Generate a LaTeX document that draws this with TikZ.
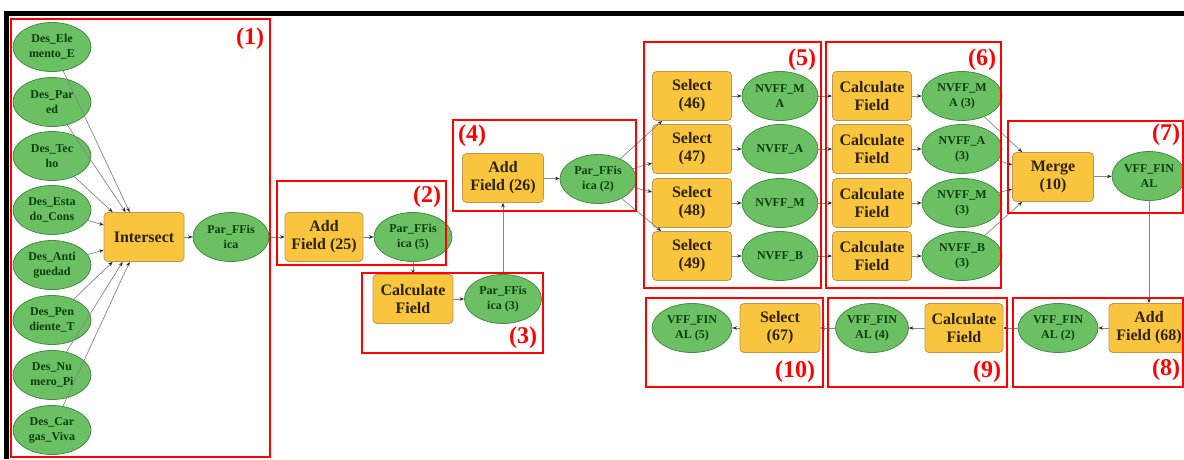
\documentclass[tikz,border=0pt]{standalone}
\usepackage{fontspec}
\setmainfont{Liberation Serif}
\usetikzlibrary{shapes.geometric,arrows.meta,calc}

\definecolor{toolfill}{RGB}{250,197,62}
\definecolor{tooledge}{RGB}{190,150,80}
\definecolor{tooltext}{RGB}{45,35,12}
\definecolor{datafill}{RGB}{106,192,98}
\definecolor{dataedge}{RGB}{72,138,72}
\definecolor{datatext}{RGB}{12,62,12}
\definecolor{flow}{RGB}{135,135,135}
\definecolor{grp}{RGB}{255,0,0}

\begin{document}
\begin{tikzpicture}[x=1pt,y=-1pt,
  tool/.style={draw=tooledge, fill=toolfill, rounded corners=4pt, line width=0.8pt,
    minimum width=80pt, minimum height=49pt, inner sep=0pt, align=center,
    text=tooltext, font=\bfseries\fontsize{16}{18}\selectfont},
  data/.style={ellipse, draw=dataedge, fill=datafill, line width=0.8pt,
    minimum width=78pt, minimum height=49pt, inner sep=0pt, align=center,
    text=datatext, font=\bfseries\fontsize{12}{15}\selectfont},
  link/.style={draw=flow, line width=0.7pt,
    -{Stealth[length=4.5pt,width=3.5pt,color=black!85]}},
  group/.style={draw=grp, line width=2pt},
  grouplabel/.style={text=grp, inner sep=0pt, font=\bfseries\fontsize{24}{24}\selectfont}]

\useasboundingbox (0,0) rectangle (1184,459);
\fill[white] (0,0) rectangle (1184,459);

% outer frame (top and left edges)
\draw[line width=5pt, black] (6,459) -- (6,13.5) -- (1184,13.5);

% ---------- group (1): inputs to Intersect ----------
\node[data] (d1) at (52,47)  {Des\_Ele\\mento\_E};
\node[data] (d2) at (52,102) {Des\_Par\\ed};
\node[data] (d3) at (52,156) {Des\_Tec\\ho};
\node[data] (d4) at (52,210) {Des\_Esta\\do\_Cons};
\node[data] (d5) at (52,265) {Des\_Anti\\guedad};
\node[data] (d6) at (52,320) {Des\_Pen\\diente\_T};
\node[data] (d7) at (52,375) {Des\_Nu\\mero\_Pi};
\node[data] (d8) at (52,430) {Des\_Car\\gas\_Viva};

\node[tool] (isect) at (144,237) {Intersect};
\node[data, minimum width=76pt] (pff) at (231,237) {Par\_FFis\\ica};

\draw[link] (d1) -- ($(isect.north west)+(26,0)$);
\draw[link] (d2) -- ($(isect.north west)+(22,0)$);
\draw[link] (d3) -- ($(isect.north west)+(9,0)$);
\draw[link] (d4) -- ($(isect.west)+(0,-12)$);
\draw[link] (d5) -- ($(isect.west)+(0,13)$);
\draw[link] (d6) -- ($(isect.south west)+(9,0)$);
\draw[link] (d7) -- ($(isect.south west)+(19,0)$);
\draw[link] (d8) -- ($(isect.south west)+(26,0)$);
\draw[link] (isect) -- (pff);

% ---------- groups (2), (3), (4) ----------
\node[tool, minimum width=78pt] (af25) at (324,237) {Add\\Field (25)};
\node[data] (p5) at (413,237) {Par\_FFis\\ica (5)};
\node[tool] (cf3) at (413,299) {Calculate\\Field};
\node[data, minimum width=77pt] (p3) at (503,299) {Par\_FFis\\ica (3)};
\node[tool, minimum width=81pt] (af26) at (503,178) {Add\\Field (26)};
\node[data, minimum width=76pt] (p2) at (598,179) {Par\_FFis\\ica (2)};

\draw[link] (pff) -- (af25);
\draw[link] (af25) -- (p5);
\draw[link] (p5) -- (cf3);
\draw[link] (cf3) -- (p3);
\draw[link] (p3) -- (af26);
\draw[link] (af26) -- (p2);

% ---------- groups (5) and (6): four parallel chains ----------
\node[tool, minimum width=79pt] (s46) at (692,96)  {Select\\(46)};
\node[tool, minimum width=79pt] (s47) at (692,149) {Select\\(47)};
\node[tool, minimum width=79pt] (s48) at (692,203) {Select\\(48)};
\node[tool, minimum width=79pt] (s49) at (692,256) {Select\\(49)};

\node[data, minimum width=76pt] (n1) at (780,96)  {NVFF\_M\\A};
\node[data, minimum width=76pt] (n2) at (780,149) {NVFF\_A};
\node[data, minimum width=76pt] (n3) at (780,203) {NVFF\_M};
\node[data, minimum width=76pt] (n4) at (780,256) {NVFF\_B};

\node[tool, minimum width=79pt] (c1) at (872,96)  {Calculate\\Field};
\node[tool, minimum width=79pt] (c2) at (872,149) {Calculate\\Field};
\node[tool, minimum width=79pt] (c3) at (872,203) {Calculate\\Field};
\node[tool, minimum width=79pt] (c4) at (872,256) {Calculate\\Field};

\node[data, minimum width=80pt] (m1) at (962,96)  {NVFF\_M\\A (3)};
\node[data, minimum width=80pt] (m2) at (962,149) {NVFF\_A\\(3)};
\node[data, minimum width=80pt] (m3) at (962,203) {NVFF\_M\\(3)};
\node[data, minimum width=80pt] (m4) at (962,256) {NVFF\_B\\(3)};

\draw[link] (p2) -- ($(s46.south west)+(10,0)$);
\draw[link] (p2) -- ($(s47.west)+(0,14)$);
\draw[link] (p2) -- ($(s48.west)+(0,-11)$);
\draw[link] (p2) -- ($(s49.north west)+(9,0)$);

\foreach \i/\s in {1/s46,2/s47,3/s48,4/s49}{
  \draw[link] (\s) -- (n\i);
  \draw[link] (n\i) -- (c\i);
  \draw[link] (c\i) -- (m\i);
}

% ---------- group (7): Merge ----------
\node[tool, minimum width=81pt] (merge) at (1053,177) {Merge\\(10)};
\node[data, minimum width=74pt] (vff) at (1149,176) {VFF\_FIN\\AL};

\draw[link] (m1) -- ($(merge.north west)+(10,0)$);
\draw[link] (m2) -- ($(merge.west)+(0,-12)$);
\draw[link] (m3) -- ($(merge.west)+(0,12)$);
\draw[link] (m4) -- ($(merge.south west)+(10,0)$);
\draw[link] (merge) -- (vff);

% ---------- groups (8), (9), (10): bottom chain ----------
\node[tool] (af68) at (1149,328) {Add\\Field (68)};
\node[data, minimum width=80pt] (vff2) at (1058,328) {VFF\_FIN\\AL (2)};
\node[tool, minimum width=78pt] (cf9) at (964,328) {Calculate\\Field};
\node[data, minimum width=73pt] (vff4) at (872,328) {VFF\_FIN\\AL (4)};
\node[tool] (s67) at (780,328) {Select\\(67)};
\node[data, minimum width=80pt] (vff5) at (692,328) {VFF\_FIN\\AL (5)};

\draw[link] (vff) -- (af68);
\draw[link] (af68) -- (vff2);
\draw[link] (vff2) -- (cf9);
\draw[link] (cf9) -- (vff4);
\draw[link] (vff4) -- (s67);
\draw[link] (s67) -- (vff5);

% ---------- numbered group frames ----------
\draw[group] (11,19)    rectangle (270,457);
\draw[group] (277,181)  rectangle (446,265);
\draw[group] (362,273)  rectangle (543,353);
\draw[group] (453,120)  rectangle (636,211);
\draw[group] (644,42)   rectangle (821,288);
\draw[group] (826,42)   rectangle (1001,288);
\draw[group] (1008,121) rectangle (1183,213);
\draw[group] (1013,298) rectangle (1183,387);
\draw[group] (828,298)  rectangle (1007,387);
\draw[group] (646,298)  rectangle (823,387);

\node[grouplabel] (g1)  at (250,39)   {(1)};
\node[grouplabel] (g2)  at (427,197)  {(2)};
\node[grouplabel] (g3)  at (523,338)  {(3)};
\node[grouplabel] (g4)  at (472,136)  {(4)};
\node[grouplabel] (g5)  at (802,60)   {(5)};
\node[grouplabel] (g6)  at (982,60)   {(6)};
\node[grouplabel] (g7)  at (1166,135) {(7)};
\node[grouplabel] (g8)  at (1166,370) {(8)};
\node[grouplabel] (g9)  at (987,372)  {(9)};
\node[grouplabel] (g10) at (795,372)  {(10)};
\end{tikzpicture}
\end{document}
